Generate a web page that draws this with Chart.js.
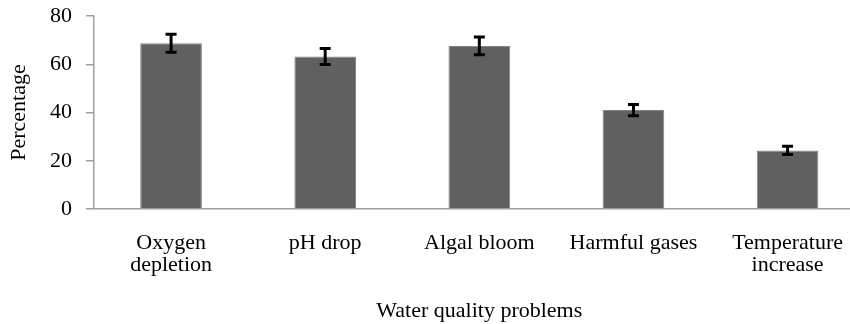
<!DOCTYPE html>
<html>
<head>
<meta charset="utf-8">
<script src="https://cdn.jsdelivr.net/npm/chart.js@4"></script>
<style>
    html, body { margin: 0; padding: 0; background: #fff; overflow: hidden; }
    #wrap { width: 866px; height: 324px; }
</style>
</head>
<body>
<div id="wrap"><canvas id="chart" width="866" height="324"></canvas></div>
<script>
// 数据
const categories = [
    ['Oxygen', 'depletion'],
    'pH drop',
    'Algal bloom',
    'Harmful gases',
    ['Temperature', 'increase']
];
const percentages = [68.7, 63.2, 67.6, 41.0, 24.3];
const errors = [3.7, 3.3, 3.7, 2.3, 1.7];
const yTicks = [0, 20, 40, 60, 80];

const serif = "'Liberation Serif', 'Times New Roman', serif";

// 误差线插件
const errorBars = {
    id: 'errorBars',
    afterDatasetsDraw(chart) {
        const ctx = chart.ctx;
        const meta = chart.getDatasetMeta(0);
        const y = chart.scales.y;
        ctx.save();
        ctx.strokeStyle = '#000';
        ctx.lineWidth = 3;
        meta.data.forEach((bar, i) => {
            const v = percentages[i];
            const top = y.getPixelForValue(v + errors[i]);
            const bottom = y.getPixelForValue(v - errors[i]);
            const x = bar.x;
            ctx.beginPath();
            ctx.moveTo(x, top);
            ctx.lineTo(x, bottom);
            ctx.moveTo(x - 5.5, top);
            ctx.lineTo(x + 5.5, top);
            ctx.moveTo(x - 5.5, bottom);
            ctx.lineTo(x + 5.5, bottom);
            ctx.stroke();
        });
        ctx.restore();
    }
};

new Chart(document.getElementById('chart'), {
    type: 'bar',
    data: {
        labels: categories,
        datasets: [{
            data: percentages,
            backgroundColor: '#606060',
            borderColor: '#858585',
            borderWidth: 1,
            categoryPercentage: 1,
            barPercentage: 0.4
        }]
    },
    options: {
        responsive: false,
        animation: false,
        layout: { padding: { top: 16, right: 0, bottom: 0, left: 0 } },
        plugins: {
            legend: { display: false },
            tooltip: { enabled: false }
        },
        scales: {
            x: {
                grid: { display: false, drawTicks: false },
                border: { display: true, color: '#a0a0a0', width: 1.5 },
                ticks: {
                    color: '#000',
                    padding: 23,
                    maxRotation: 0,
                    autoSkip: false,
                    font: { family: serif, size: 22, lineHeight: 1.0 }
                },
                title: {
                    display: true,
                    text: 'Water quality problems',
                    color: '#000',
                    padding: { top: 0, bottom: 2 },
                    font: { family: serif, size: 22, lineHeight: 1.0 }
                },
                afterFit(scale) { scale.height = 115; }
            },
            y: {
                min: 0,
                max: 80,
                afterBuildTicks(scale) {
                    scale.ticks = yTicks.map(v => ({ value: v }));
                },
                grid: {
                    drawOnChartArea: false,
                    drawTicks: true,
                    tickLength: 8,
                    color: '#a0a0a0',
                    lineWidth: 1.5
                },
                border: { display: true, color: '#a0a0a0', width: 1.5 },
                ticks: {
                    color: '#000',
                    padding: 14,
                    font: { family: serif, size: 22 }
                },
                title: {
                    display: true,
                    text: 'Percentage',
                    color: '#000',
                    padding: { top: 8.5, bottom: 0 },
                    font: { family: serif, size: 22, lineHeight: 1.0 }
                },
                afterFit(scale) {
                    scale.width = 94;
                    // 顶部留白由 layout.padding 控制
                    scale.paddingTop = 0;
                    scale.paddingBottom = 0;
                }
            }
        }
    },
    plugins: [errorBars]
});
</script>
</body>
</html>
